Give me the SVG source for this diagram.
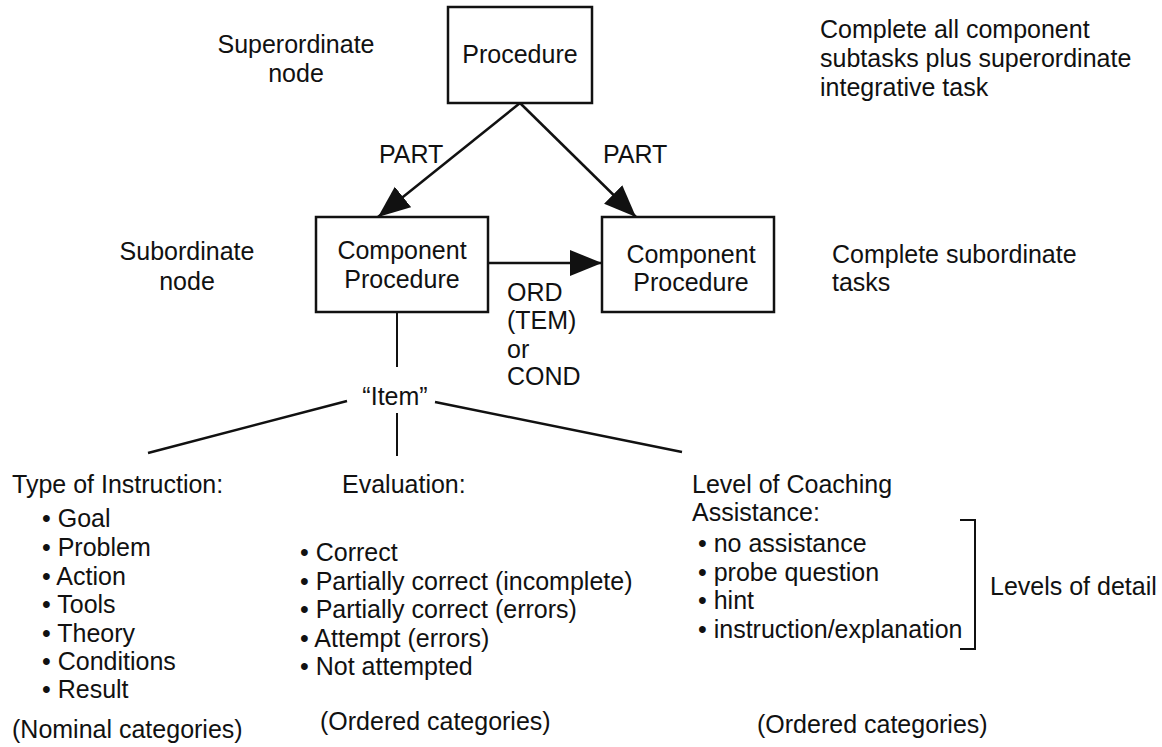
<svg xmlns="http://www.w3.org/2000/svg" width="1162" height="747" viewBox="0 0 1162 747">
<style>
text{font-family:"Liberation Sans",Arial,sans-serif;font-size:25px;fill:#111}
.m{text-anchor:middle}
.box{fill:#fff;stroke:#111;stroke-width:2.5}
.ln{stroke:#111;stroke-width:2.5;fill:none}
.thin{stroke:#111;stroke-width:2;fill:none}
</style>
<defs>
<marker id="ah" markerUnits="userSpaceOnUse" markerWidth="34" markerHeight="28" refX="32" refY="14" orient="auto">
<path d="M0,1 L32,14 L0,27 Z" fill="#111"/>
</marker>
</defs>
<rect width="1162" height="747" fill="#fff"/>
<g id="connectors">
<line class="ln" x1="520" y1="103" x2="378" y2="217" marker-end="url(#ah)"/>
<line class="ln" x1="520" y1="103" x2="636" y2="217" marker-end="url(#ah)"/>
<line class="ln" x1="488" y1="263" x2="602" y2="263" marker-end="url(#ah)"/>
<line class="thin" x1="397" y1="312" x2="397" y2="367"/>
<line class="ln" x1="347" y1="401" x2="148" y2="453"/>
<line class="ln" x1="435" y1="402" x2="682" y2="452"/>
<line class="thin" x1="397" y1="413" x2="397" y2="456"/>
<path class="thin" d="M960,520 H975 V649 H960"/>
</g>
<g id="procedure">
<rect class="box" x="448" y="7" width="144" height="96"/>
<text class="m" x="520" y="63">Procedure</text>
</g>
<g id="component1">
<rect class="box" x="316" y="217" width="172" height="95"/>
<text class="m" x="402" y="259">Component</text>
<text class="m" x="402" y="288">Procedure</text>
</g>
<g id="component2">
<rect class="box" x="602" y="217" width="172" height="95"/>
<text class="m" x="691" y="263">Component</text>
<text class="m" x="691" y="291">Procedure</text>
</g>
<g id="labels">
<text class="m" x="296" y="53">Superordinate</text>
<text class="m" x="296" y="82">node</text>
<text x="820" y="38">Complete all component</text>
<text x="820" y="67">subtasks plus superordinate</text>
<text x="820" y="96">integrative task</text>
<text x="379" y="163">PART</text>
<text x="603" y="163">PART</text>
<text class="m" x="187" y="260">Subordinate</text>
<text class="m" x="187" y="290">node</text>
<text x="832" y="263">Complete subordinate</text>
<text x="832" y="291">tasks</text>
<text x="507" y="301">ORD</text>
<text x="507" y="329">(TEM)</text>
<text x="507" y="358">or</text>
<text x="507" y="385">COND</text>
</g>
<g id="item">
<text class="m" x="395" y="405">“Item”</text>
</g>
<g id="type-of-instruction">
<text x="12" y="493">Type of Instruction:</text>
<text x="42" y="527">• Goal</text>
<text x="42" y="556">• Problem</text>
<text x="42" y="585">• Action</text>
<text x="42" y="613">• Tools</text>
<text x="42" y="642">• Theory</text>
<text x="42" y="670">• Conditions</text>
<text x="42" y="698">• Result</text>
<text x="12" y="738">(Nominal categories)</text>
</g>
<g id="evaluation">
<text x="342" y="493">Evaluation:</text>
<text x="300" y="561">• Correct</text>
<text x="300" y="590">• Partially correct (incomplete)</text>
<text x="300" y="618">• Partially correct (errors)</text>
<text x="300" y="647">• Attempt (errors)</text>
<text x="300" y="675">• Not attempted</text>
<text x="320" y="730">(Ordered categories)</text>
</g>
<g id="coaching">
<text x="692" y="493">Level of Coaching</text>
<text x="692" y="521">Assistance:</text>
<text x="698" y="552">• no assistance</text>
<text x="698" y="581">• probe question</text>
<text x="698" y="609">• hint</text>
<text x="698" y="638">• instruction/explanation</text>
<text x="990" y="595">Levels of detail</text>
<text x="757" y="733">(Ordered categories)</text>
</g>
</svg>
